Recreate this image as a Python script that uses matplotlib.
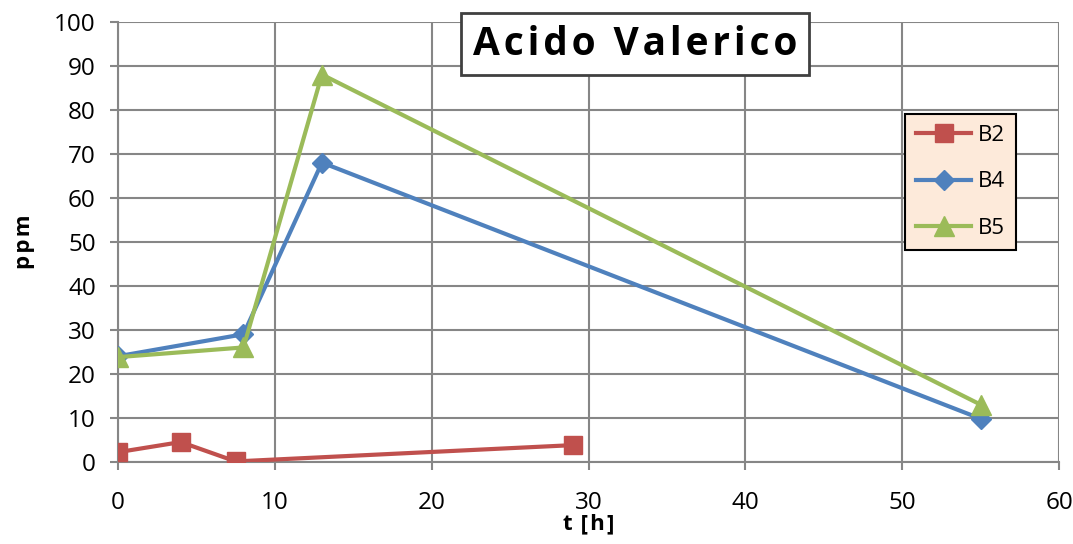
import matplotlib
matplotlib.use("Agg")
import matplotlib.pyplot as plt

plt.rcParams['font.family'] = ['Open Sans', 'DejaVu Sans']

t_b2 = [0, 4, 7.5, 29]
ppm_b2 = [2.2, 4.5, 0.1, 3.8]
t_b4 = [0, 8, 13, 55]
ppm_b4 = [24, 29, 68, 9.8]
t_b5 = [0, 8, 13, 55]
ppm_b5 = [23.8, 26, 88, 13]

fig = plt.figure(figsize=(10.73, 5.44), dpi=100)
ax = fig.add_axes([0.110, 0.151, 0.877, 0.809])

ax.plot(t_b2, ppm_b2, color="#C0504D", lw=3, marker="s", ms=13, label="B2", zorder=3)
ax.plot(t_b4, ppm_b4, color="#4F81BD", lw=3, marker="D", ms=10, label="B4", zorder=3)
ax.plot(t_b5, ppm_b5, color="#9BBB59", lw=3, marker="^", ms=14, label="B5", zorder=4)

ax.set_xlim(0, 60)
ax.set_ylim(0, 100)
ax.set_xticks(range(0, 61, 10))
ax.set_yticks(range(0, 101, 10))
ax.grid(True, color="#868686", lw=1.5)
ax.set_axisbelow(True)
for s in ["top", "right"]:
    ax.spines[s].set_visible(False)
for s in ["left", "bottom"]:
    ax.spines[s].set_color("#868686")
    ax.spines[s].set_linewidth(1.5)
ax.tick_params(colors="#868686", labelcolor="black", labelsize=17.5, length=6, width=1.5)
ax.tick_params(axis="x", pad=15)
ax.tick_params(axis="y", pad=10)
ax.set_xlabel("t\u200a [\u200ah\u200a]", fontsize=16, fontweight="bold", labelpad=-1)
ax.set_ylabel("p\u200ap\u200am", fontsize=16, fontweight="bold", labelpad=14)

title = "\u200a".join("Acido Valerico")
fig.text(0.592, 0.919, title, fontsize=28, fontweight="bold", ha="center", va="center",
         bbox=dict(boxstyle="square,pad=0.3", fc="white", ec="#404040", lw=2))

leg = ax.legend(loc="upper left", bbox_to_anchor=(0.836, 0.791), fontsize=16, frameon=True,
                fancybox=False, borderpad=0.5, labelspacing=1.15, handlelength=2.5,
                handletextpad=0.3, borderaxespad=0)
leg.get_frame().set_facecolor("#FDEADA")
leg.get_frame().set_edgecolor("black")
leg.get_frame().set_linewidth(1.5)
leg.get_frame().set_alpha(1)

fig.savefig("out.png", dpi=100)
